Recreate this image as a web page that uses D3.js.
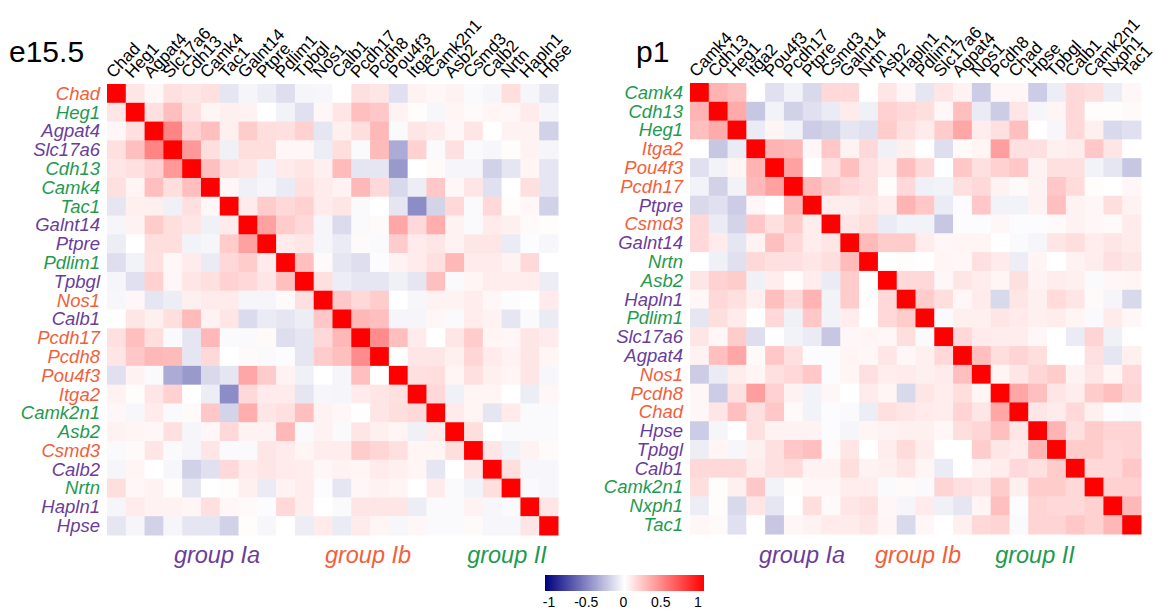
<!DOCTYPE html>
<html>
<head>
<meta charset="utf-8">
<script src="https://cdn.jsdelivr.net/npm/d3@7"></script>
<style>
  body { margin: 0; background: #fff; }
  text { font-family: "Liberation Sans", Arial, sans-serif; }
</style>
</head>
<body>
<div id="chart-area"></div>
<script>
// gene order and group (Ia / Ib / II) of each panel
var e15Genes = ["Chad", "Heg1", "Agpat4", "Slc17a6", "Cdh13", "Camk4", "Tac1", "Galnt14", "Ptpre", "Pdlim1", "Tpbgl", "Nos1",
    "Calb1", "Pcdh17", "Pcdh8", "Pou4f3", "Itga2", "Camk2n1", "Asb2", "Csmd3", "Calb2", "Nrtn", "Hapln1", "Hpse"];
var e15Groups = ["Ib", "II", "Ia", "Ia", "II", "II", "II", "Ia", "Ia", "II", "Ia", "Ib",
    "Ia", "Ib", "Ib", "Ib", "Ib", "II", "II", "Ib", "Ia", "II", "Ia", "Ia"];

var p1Genes = ["Camk4", "Cdh13", "Heg1", "Itga2", "Pou4f3", "Pcdh17", "Ptpre", "Csmd3", "Galnt14", "Nrtn", "Asb2", "Hapln1",
    "Pdlim1", "Slc17a6", "Agpat4", "Nos1", "Pcdh8", "Chad", "Hpse", "Tpbgl", "Calb1", "Camk2n1", "Nxph1", "Tac1"];
var p1Groups = ["II", "II", "II", "Ib", "Ib", "Ib", "Ia", "Ib", "Ia", "II", "II", "Ia",
    "II", "Ia", "Ia", "Ib", "Ib", "Ib", "Ia", "Ia", "Ia", "II", "II", "II"];

// correlations above the diagonal, row i holds columns i+1 .. 23
var e15Upper = [
    [0.1, 0.03, 0.12, 0.1, 0.12, -0.1, -0.04, -0.07, -0.13, -0.04, -0.03, 0, 0.12, 0.1, -0.12, 0.05, 0.03, 0.05, -0.02, -0.04, 0.13, -0.04, -0.1],
    [0.12, 0.25, 0.12, 0.04, 0.06, 0.05, 0, -0.05, -0.12, 0.03, 0.1, 0.25, 0.22, 0.05, 0.01, -0.03, 0.04, 0.02, 0.04, 0.03, 0.08, -0.04],
    [0.48, 0.18, 0.25, 0.06, 0.2, 0.13, 0.12, 0.18, -0.1, 0.06, 0.13, 0.28, -0.02, 0.1, 0.08, 0.03, 0.1, 0, 0.05, 0.05, -0.18],
    [0.4, 0.13, -0.06, 0.13, 0.13, 0.03, 0.03, -0.07, 0.13, -0.02, 0.27, -0.33, 0.18, -0.02, 0.12, -0.02, -0.03, 0.01, 0.05, -0.04],
    [0.25, 0.12, 0.1, -0.05, 0.08, 0.1, 0.06, 0.27, -0.1, -0.1, -0.4, 0, 0.02, -0.04, -0.04, -0.18, -0.1, 0.04, -0.1],
    [0.03, -0.06, -0.04, -0.08, 0.12, 0.08, 0.05, 0.28, 0.15, -0.15, -0.07, 0.22, 0.03, 0.1, -0.12, 0, 0.12, -0.1],
    [0.08, 0.2, 0.15, 0.18, 0.08, 0.1, -0.02, 0, -0.1, -0.45, -0.17, 0.15, -0.02, 0.15, 0.01, 0.03, -0.18],
    [0.37, 0.2, 0.15, -0.04, -0.14, -0.02, 0.02, 0.35, 0.15, 0.32, 0.05, -0.02, 0.08, 0.06, 0.02, 0.01],
    [0.08, 0.1, -0.04, -0.08, 0.02, -0.02, 0.2, 0.08, 0.1, 0.05, 0.1, 0.1, -0.08, -0.01, -0.03],
    [0.25, 0.02, -0.1, -0.13, -0.01, 0.05, 0.08, 0.12, 0.28, 0.08, 0.08, 0.05, 0.15, 0],
    [0.12, -0.07, -0.1, -0.1, -0.06, -0.1, 0.25, -0.02, 0.04, 0.07, 0.07, 0.07, -0.07],
    [0.22, 0.15, 0.2, 0, -0.03, 0.05, 0.05, 0.07, 0.03, -0.01, 0, 0.08],
    [0.28, 0.25, -0.04, -0.04, 0.03, -0.02, 0.07, 0.05, -0.1, -0.02, -0.08],
    [0.45, 0.25, 0.08, 0, 0.1, 0.2, 0.04, 0.03, 0.1, 0.08],
    [0, 0.1, 0.1, 0.06, 0.16, 0.08, 0.05, 0.1, 0.04],
    [0.12, 0.13, 0.04, 0.12, 0.06, 0.04, 0.1, -0.03],
    [0.15, -0.06, 0.04, 0.04, 0, -0.07, 0.03],
    [0.08, 0.04, -0.1, 0.08, -0.02, -0.02],
    [0.13, 0, -0.02, -0.02, -0.02],
    [0.1, -0.05, 0.05, 0.02],
    [0.13, -0.03, -0.03],
    [-0.02, -0.03],
    [0.1]
];

var p1Upper = [
    [0.3, 0.25, 0, -0.12, -0.05, -0.15, 0.15, 0.15, 0, 0.1, 0.03, -0.1, 0.1, 0.05, -0.2, 0.03, 0.03, -0.2, -0.07, 0.15, 0.13, -0.07, 0.03],
    [0.33, -0.22, -0.05, -0.18, -0.12, -0.08, 0.08, -0.06, 0.18, 0.15, 0.13, 0.03, 0.25, -0.08, -0.2, 0.1, -0.04, 0.04, 0.15, 0.01, 0.01, 0.02],
    [-0.08, 0.04, -0.05, -0.2, -0.17, -0.1, -0.12, 0.2, 0.12, 0.08, 0.2, 0.35, 0.07, 0.12, 0.25, 0, -0.03, 0.15, 0.06, -0.15, -0.12],
    [0.3, 0.28, 0.03, 0.22, 0.05, 0.15, -0.06, 0.06, 0, -0.13, 0.02, 0.04, 0.38, 0.12, 0.12, 0.06, 0.07, 0.22, 0.1, 0],
    [0.37, 0, 0.12, 0.25, 0.12, 0.07, 0.25, 0.15, 0, 0.22, 0.12, 0.18, 0.22, 0.05, 0.12, 0.12, -0.05, -0.1, -0.22],
    [0.28, 0.2, 0.15, 0.12, 0.01, 0.15, -0.06, -0.05, 0.12, 0.15, 0.05, 0.02, 0.05, 0.22, 0.14, 0.01, 0, 0.03],
    [0.07, 0.07, 0.1, 0.07, 0.3, 0.22, -0.08, -0.01, 0.22, -0.05, -0.05, 0.05, 0.25, 0.05, 0.03, 0.13, 0.05],
    [0.1, 0.13, -0.08, -0.05, -0.05, -0.22, -0.01, -0.01, 0.03, -0.01, -0.01, 0.02, 0.05, 0.03, 0.02, 0.08],
    [0.27, 0.2, 0.2, 0.07, 0.03, 0.04, 0.04, 0, -0.02, -0.04, 0.1, 0.13, 0.07, 0.1, 0.08],
    [0, 0.01, 0, 0.04, 0.03, 0.12, 0.08, -0.07, 0.04, 0, 0.05, 0.07, 0.12, 0.1],
    [0.15, 0.15, 0.03, 0.1, 0.07, 0.04, 0.12, 0.05, 0.07, 0.06, -0.02, 0.03, 0.04],
    [0.2, 0.13, 0.03, 0.08, -0.15, 0.1, 0.06, 0.14, 0.1, 0.02, -0.04, -0.15],
    [-0.02, 0.06, 0.06, 0.1, 0.08, 0.06, 0.07, 0.04, -0.02, 0.08, 0.03],
    [0.15, 0.08, 0.07, 0.07, 0.03, 0, -0.08, 0.17, -0.06, 0],
    [0.25, 0.13, 0.17, 0.13, 0, 0, 0.12, -0.1, 0.06],
    [0.04, 0.1, 0.16, 0.2, 0.05, 0.1, 0.04, 0.15],
    [0.35, 0.25, 0.1, 0.07, 0.2, 0.25, 0.17],
    [0.1, 0.08, 0.15, 0.06, -0.01, -0.02],
    [0.3, 0.12, 0.2, 0.17, 0.17],
    [0.2, 0.2, 0.15, 0.17],
    [0.15, 0.15, 0.22],
    [0.18, 0.18],
    [0.28]
];

var groupNames = ["Ia", "Ib", "II"];
var legendTicks = [-1, -0.5, 0, 0.5, 1];

var width = 1155;
var height = 612;

var groupColor = d3.scaleOrdinal()
    .domain(groupNames)
    .range(["#6a3d9c", "#f2603a", "#1f9a4e"]);

var color = d3.scaleLinear()
    .domain([-1, 0, 1])
    .range(["#000080", "#ffffff", "#ff0000"]);

var svg = d3.select("#chart-area")
    .append("svg")
    .attr("width", width)
    .attr("height", height);

// expand upper triangle into a list of cells
function toCells(upper, n) {
    var cells = [];
    for (var i = 0; i < n; i++) {
        for (var j = 0; j < n; j++) {
            var v;
            if (i == j) v = 1;
            else if (j > i) v = upper[i][j - i - 1];
            else v = upper[j][i - j - 1];
            cells.push({ row: i, col: j, value: v });
        }
    }
    return cells;
}

function drawPanel(title, genes, groups, upper, left, top, titleX, capX) {
    var size = 451;
    var n = genes.length;

    var x = d3.scaleBand()
        .domain(d3.range(n))
        .range([left, left + size]);

    var y = d3.scaleBand()
        .domain(d3.range(n))
        .range([top, top + size]);

    var g = svg.append("g");

    g.selectAll("rect")
        .data(toCells(upper, n))
        .enter()
        .append("rect")
        .attr("x", function(d) { return x(d.col); })
        .attr("y", function(d) { return y(d.row); })
        .attr("width", x.bandwidth() + 0.5)
        .attr("height", y.bandwidth() + 0.5)
        .attr("fill", function(d) { return color(d.value); });

    // row labels
    g.selectAll(".rowlab")
        .data(genes)
        .enter()
        .append("text")
        .attr("class", "rowlab")
        .attr("x", left - 7)
        .attr("y", function(d, i) { return y(i) + y.bandwidth() / 2; })
        .attr("dy", "0.35em")
        .attr("text-anchor", "end")
        .attr("font-size", 18.5)
        .attr("font-style", "italic")
        .attr("fill", function(d, i) { return groupColor(groups[i]); })
        .text(function(d) { return d; });

    // column labels
    g.selectAll(".collab")
        .data(genes)
        .enter()
        .append("text")
        .attr("class", "collab")
        .attr("transform", function(d, i) {
            return "translate(" + (x(i) + x.bandwidth() / 2 - 3) + "," + (top - 5) + ") rotate(-47)";
        })
        .attr("font-size", 17)
        .attr("fill", "#000")
        .text(function(d) { return d; });

    g.append("text")
        .attr("x", titleX)
        .attr("y", 62)
        .attr("font-size", 30)
        .attr("fill", "#000")
        .text(title);

    // group captions below the panel
    g.selectAll(".grp")
        .data(groupNames)
        .enter()
        .append("text")
        .attr("class", "grp")
        .attr("x", function(d, i) { return left + capX[i]; })
        .attr("y", 563)
        .attr("text-anchor", "middle")
        .attr("font-size", 23.5)
        .attr("font-style", "italic")
        .attr("fill", function(d) { return groupColor(d); })
        .text(function(d) { return "group " + d; });
}

drawPanel("e15.5", e15Genes, e15Groups, e15Upper, 107, 84, 9, [110, 261, 400]);
drawPanel("p1", p1Genes, p1Groups, p1Upper, 690, 83, 636, [112, 228, 345]);

// colour bar
var defs = svg.append("defs");
var grad = defs.append("linearGradient")
    .attr("id", "cbar");
grad.selectAll("stop")
    .data(d3.range(0, 1.01, 0.1))
    .enter()
    .append("stop")
    .attr("offset", function(d) { return d * 100 + "%"; })
    .attr("stop-color", function(d) { return color(d * 2 - 1); });

svg.append("rect")
    .attr("x", 545)
    .attr("y", 575)
    .attr("width", 159)
    .attr("height", 16)
    .attr("fill", "url(#cbar)");

var lx = d3.scaleLinear()
    .domain([-1, 1])
    .range([549, 698]);

svg.selectAll(".tick")
    .data(legendTicks)
    .enter()
    .append("text")
    .attr("class", "tick")
    .attr("x", function(d) { return lx(d); })
    .attr("y", 607)
    .attr("text-anchor", "middle")
    .attr("font-size", 14)
    .attr("fill", "#000")
    .text(function(d) { return d; });
</script>
</body>
</html>
